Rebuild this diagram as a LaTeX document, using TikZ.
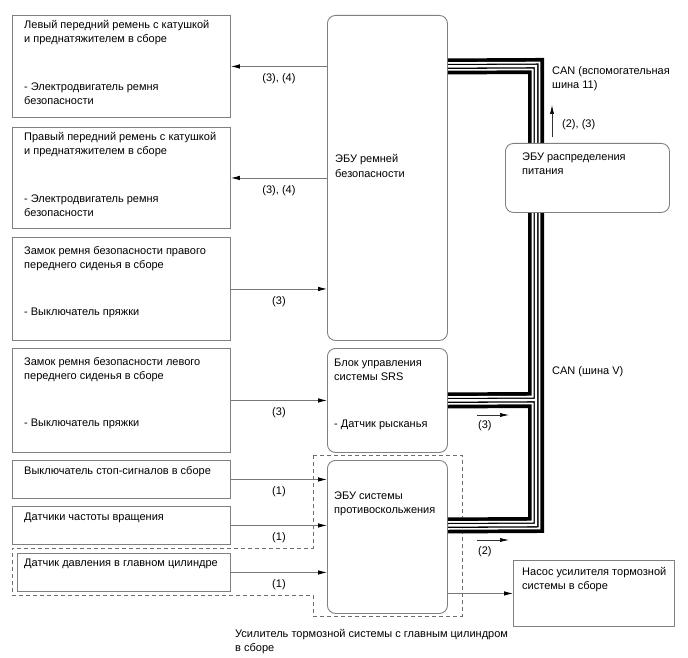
\documentclass[tikz,border=0pt]{standalone}
\usepackage{fontspec}
\setmainfont{Liberation Sans}
\usetikzlibrary{arrows.meta}
\definecolor{boxgray}{RGB}{128,128,128}
\definecolor{linegray}{RGB}{120,120,120}
\definecolor{dashgray}{RGB}{110,110,110}
\newcommand{\fs}{\fontsize{11}{14}\selectfont}
\newcommand{\tl}[1]{\begin{tabular}[t]{@{}l@{}}#1\end{tabular}}
\begin{document}
\begin{tikzpicture}[x=1pt,y=-1pt,
  box/.style={draw=boxgray, line width=0.9pt, fill=white, inner sep=0, anchor=north west},
  rbox/.style={box, rounded corners=8pt},
  txt/.style={anchor=base west, inner sep=0, font=\fs},
  arr/.style={draw=linegray, line width=0.8pt, -{Latex[length=9pt,width=4.5pt,color=black]}},
  sarr/.style={draw=black!80, line width=0.6pt, -{Latex[length=9pt,width=4pt,color=black]}},
  alab/.style={anchor=base, inner sep=0, font=\fs, yshift=-15.5pt},
  dashbox/.style={draw=dashgray, line width=0.9pt, dash pattern=on 4pt off 3pt},
]
\useasboundingbox (0,0) rectangle (688,658);

% dashed assembly outline
\draw[dashbox] (313,455) -- (462,455) -- (462,616) -- (313,616) -- (313,595)
  -- (12,595) -- (12,548) -- (313,548) -- cycle;

% left boxes
\node[box, minimum width=218pt, minimum height=102pt] (l1) at (12,15) {};
\node[box, minimum width=218pt, minimum height=101pt] (l2) at (12,127) {};
\node[box, minimum width=218pt, minimum height=103pt] (l3) at (12,237) {};
\node[box, minimum width=218pt, minimum height=104pt] (l4) at (12,348) {};
\node[box, minimum width=218pt, minimum height=38pt] (l5) at (12,460) {};
\node[box, minimum width=218pt, minimum height=38pt] (l6) at (12,506) {};
\node[box, minimum width=213pt, minimum height=38pt] (l7) at (17,553) {};

% ECU boxes
\node[rbox, minimum width=120pt, minimum height=325pt] (sb) at (327,15) {};
\node[rbox, minimum width=120pt, minimum height=104pt] (srs) at (327,348) {};
\node[rbox, minimum width=120pt, minimum height=153pt] (skid) at (327,460) {};
\node[box, minimum width=161pt, minimum height=66pt] (pump) at (513,560) {};

% CAN bus
\coordinate (bt) at (536,66);
\coordinate (bs) at (536,400);
\coordinate (bb) at (536,525);
\foreach \w/\c in {16/black,8.6/white,5/black,2.4/white}{
  \draw[line width=\w pt, draw=\c, line join=miter] (sb.east |- l1.east) -- (bt) -- (bb) -- (skid.east |- l6.east);
  \draw[line width=\w pt, draw=\c] (srs.east) -- (bs);
}

% power distribution ECU (covers the bus)
\node[rbox, minimum width=164pt, minimum height=69pt] (pd) at (505,143) {};

% texts
\node[txt] (t1a) at (24,29) {\tl{Левый передний ремень с катушкой\\и преднатяжителем в сборе}};
\node[txt] (t1b) at (24,90.5) {\tl{- Электродвигатель ремня\\безопасности}};
\node[txt] (t2a) at (24,141) {\tl{Правый передний ремень с катушкой\\и преднатяжителем в сборе}};
\node[txt] (t2b) at (24,202) {\tl{- Электродвигатель ремня\\безопасности}};
\node[txt] (t3a) at (24,254) {\tl{Замок ремня безопасности правого\\переднего сиденья в сборе}};
\node[txt] (t3b) at (24,315) {- Выключатель пряжки};
\node[txt] (t4a) at (24,365) {\tl{Замок ремня безопасности левого\\переднего сиденья в сборе}};
\node[txt] (t4b) at (24,426.5) {- Выключатель пряжки};
\node[txt] (t5) at (24,474.5) {Выключатель стоп-сигналов в сборе};
\node[txt] (t6) at (24,520.5) {Датчики частоты вращения};
\node[txt] (t7) at (24,566.5) {Датчик давления в главном цилиндре};
\node[txt] (tsb) at (335,163) {\tl{ЭБУ ремней\\безопасности}};
\node[txt] (tsrsa) at (334,366.5) {\tl{Блок управления\\системы SRS}};
\node[txt] (tsrsb) at (334,427) {- Датчик рысканья};
\node[txt] (tskid) at (334,499) {\tl{ЭБУ системы\\противоскольжения}};
\node[txt] (tpd) at (522,160.5) {\tl{ЭБУ распределения\\питания}};
\node[txt] (tpump) at (522,575.5) {\tl{Насос усилителя тормозной\\системы в сборе}};
\node[txt] (tcan1) at (552,75) {\tl{CAN (вспомогательная\\шина 11)}};
\node[txt] (tcanv) at (552,374.5) {CAN (шина V)};
\node[txt] (tbrake) at (235,637) {\tl{Усилитель тормозной системы с главным цилиндром\\в сборе}};

% main arrows
\draw[arr] (sb.west |- l1.east) -- node[alab] (a1) {(3), (4)} (l1.east);
\draw[arr] (sb.west |- l2.east) -- node[alab] (a2) {(3), (4)} (l2.east);
\draw[arr] (l3.east) -- node[alab] (a3) {(3)} (sb.west |- l3.east);
\draw[arr] (l4.east) -- node[alab] (a4) {(3)} (srs.west |- l4.east);
\draw[arr] (l5.east) -- node[alab] (a5) {(1)} (skid.west |- l5.east);
\draw[arr] (l6.east) -- node[alab] (a6) {(1)} (skid.west |- l6.east);
\draw[arr] (l7.east) -- node[alab] (a7) {(1)} (skid.west |- l7.east);
\draw[arr] (skid.east |- pump.west) -- (pump.west);

% small direction arrows
\coordinate (u0) at (552,137);
\coordinate (u1) at (552,105);
\draw[sarr] (u0) -- (u1);
\node[txt] (tu) at (562,128) {(2), (3)};
\coordinate (r0) at (477,415);
\coordinate (r1) at (509,415);
\draw[sarr] (r0) -- (r1);
\node[txt] (tr1) at (478,428) {(3)};
\coordinate (s0) at (477,540);
\coordinate (s1) at (509,540);
\draw[sarr] (s0) -- (s1);
\node[txt] (tr2) at (478,554.5) {(2)};
\end{tikzpicture}
\end{document}
